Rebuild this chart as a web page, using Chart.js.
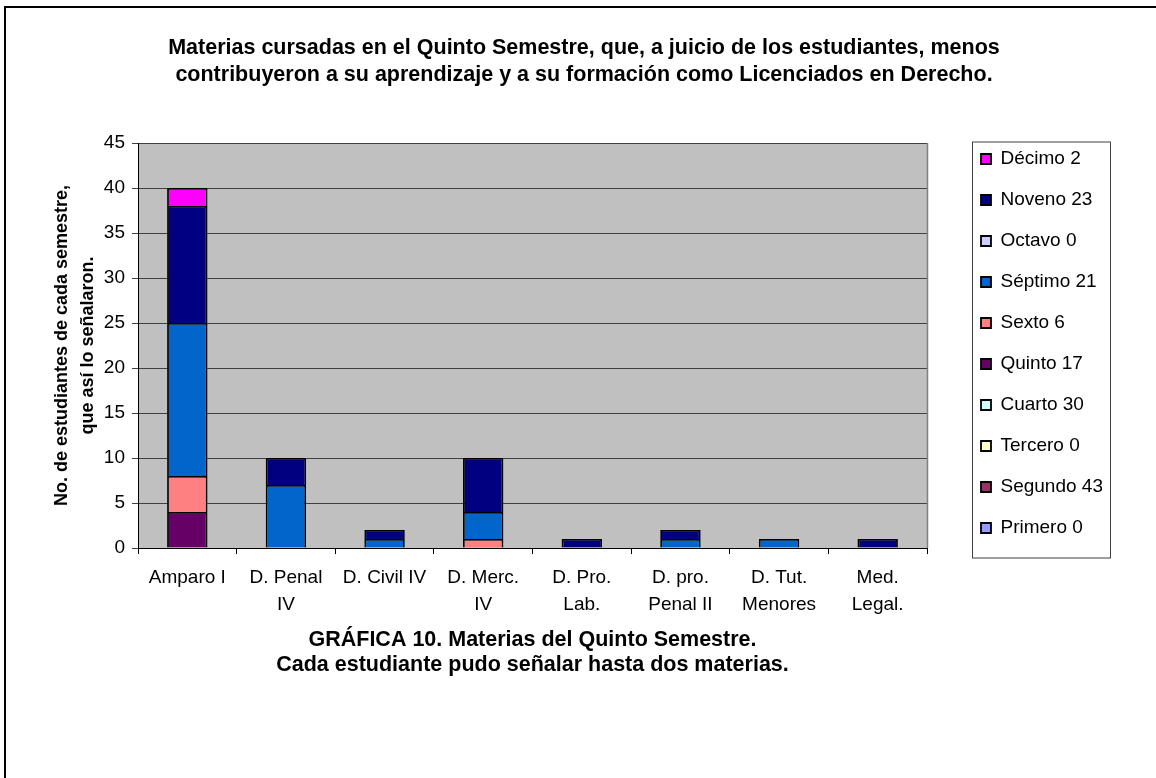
<!DOCTYPE html>
<html>
<head>
<meta charset="utf-8">
<script src="https://cdn.jsdelivr.net/npm/chart.js@4"></script>
<style>
  html, body { margin: 0; padding: 0; background: #fff; }
  #wrap { width: 1156px; height: 778px; }
</style>
</head>
<body>
<div id="wrap"><canvas id="chart" width="1156" height="778"></canvas></div>
<script>
var materias = ['Amparo I', ['D. Penal', 'IV'], 'D. Civil IV', ['D. Merc.', 'IV'], ['D. Pro.', 'Lab.'],
    ['D. pro.', 'Penal II'], ['D. Tut.', 'Menores'], ['Med.', 'Legal.']];

var semestres = ['Primero 0', 'Segundo 43', 'Tercero 0', 'Cuarto 30', 'Quinto 17',
    'Sexto 6', 'Séptimo 21', 'Octavo 0', 'Noveno 23', 'Décimo 2'];
var coloresSemestre = ['#9999FF', '#993366', '#FFFFCC', '#CCFFFF', '#660066',
    '#FF8080', '#0066CC', '#CCCCFF', '#000080', '#FF00FF'];

// alumnos por semestre que senalaron cada materia
var primero = [0, 0, 0, 0, 0, 0, 0, 0];
var segundo = [0, 0, 0, 0, 0, 0, 0, 0];
var tercero = [0, 0, 0, 0, 0, 0, 0, 0];
var cuarto  = [0, 0, 0, 0, 0, 0, 0, 0];
var quinto  = [4, 0, 0, 0, 0, 0, 0, 0];
var sexto   = [4, 0, 0, 1, 0, 0, 0, 0];
var septimo = [17, 7, 1, 3, 0, 1, 1, 0];
var octavo  = [0, 0, 0, 0, 0, 0, 0, 0];
var noveno  = [13, 3, 1, 6, 1, 1, 0, 1];
var decimo  = [2, 0, 0, 0, 0, 0, 0, 0];

var valoresSemestre = [primero, segundo, tercero, cuarto, quinto, sexto, septimo, octavo, noveno, decimo];

var tituloGrafica = ['Materias cursadas en el Quinto Semestre, que, a juicio de los estudiantes, menos',
    'contribuyeron a su aprendizaje y a su formación como Licenciados en Derecho.'];
var tituloEjeY = ['No. de estudiantes de cada semestre,', 'que así lo señalaron.'];
var tituloEjeX = ['GRÁFICA 10. Materias del Quinto Semestre.', 'Cada estudiante pudo señalar hasta dos materias.'];

var fuente = '"Liberation Sans", Arial, sans-serif';

var datasets = semestres.map(function(nombre, i) {
    return {
        label: nombre,
        data: valoresSemestre[i],
        backgroundColor: coloresSemestre[i],
        borderColor: '#000000',
        borderWidth: 1.8,
        barPercentage: 0.41,
        categoryPercentage: 1.0
    };
});

var fondoPlugin = {
    id: 'fondo',
    beforeDraw: function(chart) {
        var ctx = chart.ctx, a = chart.chartArea;
        ctx.save();
        ctx.fillStyle = '#C0C0C0';
        ctx.fillRect(a.left, a.top, a.right - a.left, a.bottom - a.top);
        ctx.restore();
    },
    afterDraw: function(chart) {
        var ctx = chart.ctx, a = chart.chartArea;
        ctx.save();
        // borde derecho del area
        ctx.strokeStyle = '#808080';
        ctx.lineWidth = 1.5;
        ctx.beginPath();
        ctx.moveTo(a.right + 0.5, a.top);
        ctx.lineTo(a.right + 0.5, a.bottom);
        ctx.stroke();

        // recuadro de la leyenda
        var hb = chart.legend.legendHitBoxes;
        if (hb && hb.length) {
            var x0 = hb[0].left - 9;
            var y0 = hb[0].top - 8;
            var last = hb[hb.length - 1];
            var y1 = last.top + last.height + 20;
            ctx.strokeStyle = '#404040';
            ctx.lineWidth = 1;
            ctx.strokeRect(x0 + 0.5, y0 + 0.5, 138, y1 - y0);
        }

        // marco de la imagen (arriba e izquierda)
        ctx.strokeStyle = '#000000';
        ctx.lineWidth = 2;
        ctx.beginPath();
        ctx.moveTo(5, chart.height);
        ctx.lineTo(5, 7);
        ctx.lineTo(chart.width, 7);
        ctx.stroke();
        ctx.restore();
    }
};

new Chart(document.getElementById('chart').getContext('2d'), {
    type: 'bar',
    data: {
        labels: materias,
        datasets: datasets
    },
    options: {
        responsive: false,
        animation: false,
        layout: {
            padding: { left: 12, right: 0, top: 0, bottom: 91 }
        },
        plugins: {
            title: {
                display: true,
                text: tituloGrafica,
                color: '#000000',
                font: { family: fuente, size: 21.5, weight: 'bold', lineHeight: 1.256 },
                padding: { top: 34.5, bottom: 54.5 }
            },
            legend: {
                position: 'right',
                align: 'center',
                reverse: true,
                labels: {
                    color: '#000000',
                    font: { family: fuente, size: 19 },
                    boxWidth: 10,
                    boxHeight: 10,
                    padding: 22
                }
            },
            tooltip: { enabled: false }
        },
        scales: {
            x: {
                stacked: true,
                grid: {
                    display: true,
                    drawOnChartArea: false,
                    offset: true,
                    tickLength: 6,
                    color: '#000000'
                },
                border: { display: true, color: '#000000', width: 1 },
                ticks: {
                    color: '#000000',
                    font: { family: fuente, size: 19, lineHeight: 1.42 },
                    padding: 10,
                    maxRotation: 0,
                    autoSkip: false
                },
                title: {
                    display: true,
                    text: tituloEjeX,
                    color: '#000000',
                    font: { family: fuente, size: 21.5, weight: 'bold', lineHeight: 1.163 },
                    padding: { top: 9.5, bottom: 9.5 }
                },
                afterFit: function(scale) { scale.height = 139; }
            },
            y: {
                stacked: true,
                min: 0,
                max: 45,
                grid: {
                    color: '#404040',
                    tickLength: 6,
                    lineWidth: 1
                },
                border: { display: true, color: '#000000', width: 1 },
                ticks: {
                    stepSize: 5,
                    color: '#000000',
                    font: { family: fuente, size: 19 },
                    padding: 7
                },
                title: {
                    display: true,
                    text: tituloEjeY,
                    color: '#000000',
                    font: { family: fuente, size: 18, weight: 'bold', lineHeight: 1.444 },
                    padding: { top: 37, bottom: 0 }
                },
                afterFit: function(scale) { scale.width = 126; }
            },
            hueco: {
                position: 'right',
                display: true,
                weight: 0,
                grid: { display: false },
                border: { display: false },
                ticks: { display: false },
                afterFit: function(scale) { scale.width = 32; }
            },
            margen: {
                position: 'right',
                display: true,
                weight: 2000,
                grid: { display: false },
                border: { display: false },
                ticks: { display: false },
                afterFit: function(scale) { scale.width = 54; }
            }
        }
    },
    plugins: [fondoPlugin]
});
</script>
</body>
</html>
